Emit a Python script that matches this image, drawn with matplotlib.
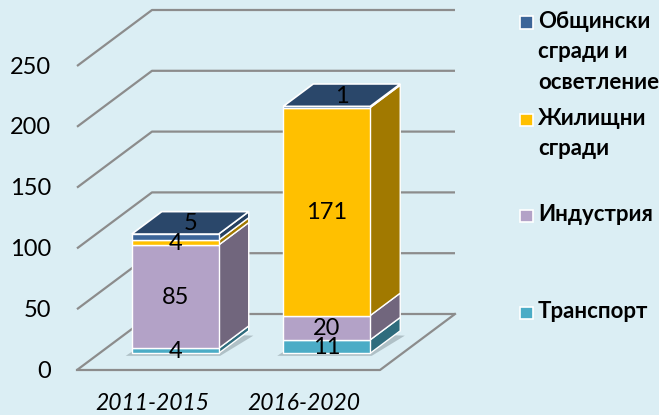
import matplotlib
matplotlib.use("Agg")
import matplotlib.pyplot as plt
from matplotlib.patches import Polygon, Rectangle
import numpy as np

# ---------------- data ----------------
categories = ["2011-2015", "2016-2020"]
series_names = ["Транспорт", "Индустрия", "Жилищни\nсгради", "Общински\nсгради и\nосветление"]
transport = [4, 11]
industry = [85, 20]
housing = [4, 171]
municipal = [5, 1]
series_values = [transport, industry, housing, municipal]
series_colors = ["#4BACC6", "#B3A2C7", "#FFC000", "#3C6598"]
y_ticks = [0, 50, 100, 150, 200, 250]

# ---------------- layout (pseudo 3-D projection) ----------------
BG = "#DBEEF4"
GRID = "#8C8C8C"
X0, CAT_W = 77.0, 151.5      # front plane left edge and category width (px)
Y0, K = 370.0, 1.216          # front plane zero line and px per unit
DX, DY = 75.0, -56.0          # offset of full depth
BAR_HALF = 0.287              # half bar width in category units
D_FRONT, D_BACK = 0.30, 0.70  # bar depth range

FS = 17
NUM_FONT = ["Lato", "Open Sans", "DejaVu Sans"]


def P(xc, v, d):
    return (X0 + xc * CAT_W + d * DX, Y0 - v * K + d * DY)


def shade(c, f):
    r, g, b = matplotlib.colors.to_rgb(c)
    return (r * f, g * f, b * f)


fig = plt.figure(figsize=(6.59, 4.15), dpi=100, facecolor=BG)
ax = fig.add_axes([0, 0, 1, 1])
ax.set_xlim(0, 659)
ax.set_ylim(415, 0)
ax.set_facecolor(BG)
ax.axis("off")

ncat = len(categories)

# walls: left wall and back wall gridlines
for v in y_ticks:
    xs, ys = zip(P(0, v, 0), P(0, v, 1), P(ncat, v, 1))
    ax.plot(xs, ys, color=GRID, lw=1.6, solid_capstyle="butt", zorder=1)
# floor outline
xs, ys = zip(P(0, 0, 0), P(ncat, 0, 0), P(ncat, 0, 1))
ax.plot(xs, ys, color=GRID, lw=1.6, zorder=1)

# y tick labels
for v in y_ticks:
    x, y = P(0, v, 0)
    ax.text(51, y + 1, str(v), ha="right", va="center", fontsize=FS,
            family=NUM_FONT, color="black", zorder=5)

# category labels
for i, c in enumerate(categories):
    x, y = P(i + 0.5, 0, 0)
    ax.text(x, 403, c, ha="center", va="center", fontsize=16.5, style="italic",
            family=NUM_FONT, color="black", zorder=5)

# bars
for i in range(ncat):
    xl, xr = i + 0.5 - BAR_HALF, i + 0.5 + BAR_HALF
    # soft shadow of footprint
    sh = [P(xl - 0.03, 0, D_FRONT - 0.02), P(xr + 0.02, 0, D_FRONT - 0.02),
          P(xr + 0.06, 0, D_BACK - 0.06), P(xl + 0.0, 0, D_BACK)]
    sh = [(a, b + 1.5) for a, b in sh]
    ax.add_patch(Polygon(sh, closed=True, facecolor="#7a8a90", alpha=0.45,
                         edgecolor="none", zorder=2))
    base = 0.0
    nser = len(series_values)
    for s in range(nser):
        val = series_values[s][i]
        top = base + val
        col = series_colors[s]
        front = [P(xl, base, D_FRONT), P(xr, base, D_FRONT),
                 P(xr, top, D_FRONT), P(xl, top, D_FRONT)]
        side = [P(xr, base, D_FRONT), P(xr, base, D_BACK),
                P(xr, top, D_BACK), P(xr, top, D_FRONT)]
        ax.add_patch(Polygon(side, closed=True, facecolor=shade(col, 0.63),
                             edgecolor="white", lw=1.0, zorder=3))
        ax.add_patch(Polygon(front, closed=True, facecolor=col,
                             edgecolor="white", lw=1.0, zorder=3))
        if s == nser - 1:
            topf = [P(xl, top, D_FRONT), P(xr, top, D_FRONT),
                    P(xr, top, D_BACK), P(xl, top, D_BACK)]
            ax.add_patch(Polygon(topf, closed=True, facecolor=shade(col, 0.70),
                                 edgecolor="white", lw=1.2, zorder=3))
            lx, ly = P(i + 0.5, top, (D_FRONT + D_BACK) / 2)
        else:
            lx, ly = P(i + 0.5, (base + top) / 2, D_FRONT)
        ax.text(lx, ly + 1, str(val), ha="center", va="center", fontsize=FS,
                family=NUM_FONT, color="black", zorder=6)
        base = top

# legend (manual, from top to bottom)
legend_y = [23, 120, 216, 313]
LEG_FONT = ["Lato", "Open Sans", "DejaVu Sans"]
for k, s in enumerate(reversed(range(len(series_names)))):
    y = legend_y[k]
    ax.add_patch(Rectangle((520, y - 6.5), 12.5, 12.5, facecolor=series_colors[s],
                           edgecolor="white", lw=1.2, zorder=5))
    ax.text(538, y - 12, series_names[s], ha="left", va="top", fontsize=16,
            fontweight="bold", family=LEG_FONT, color="black",
            linespacing=1.55, zorder=5)

fig.savefig("out.png", dpi=100, facecolor=BG)
